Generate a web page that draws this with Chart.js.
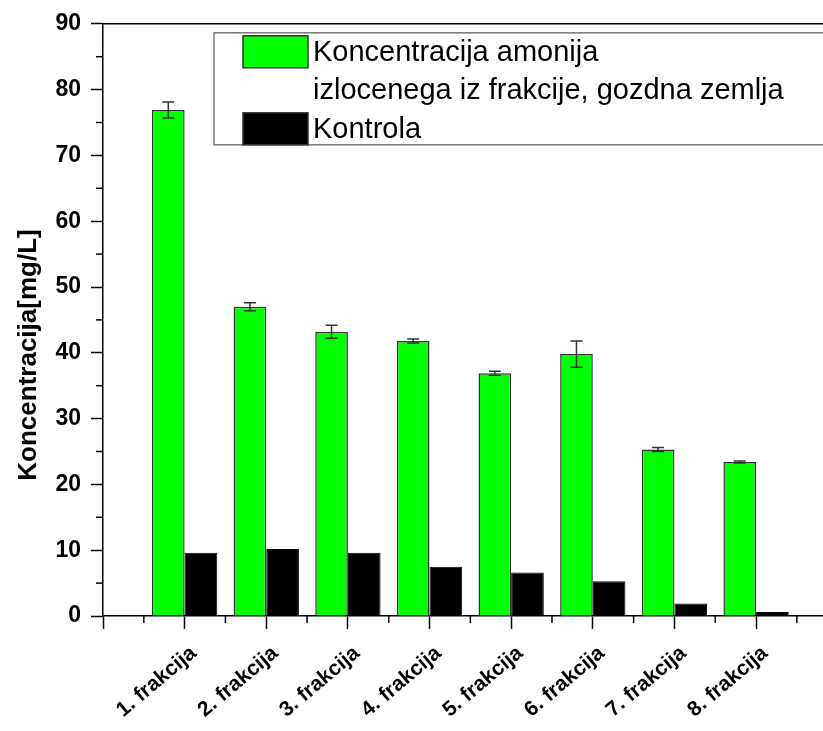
<!DOCTYPE html>
<html>
<head>
<meta charset="utf-8">
<script src="https://cdn.jsdelivr.net/npm/chart.js@4.4.1/dist/chart.umd.min.js"></script>
<style>
html,body{margin:0;padding:0;background:#fff;}
canvas{display:block;}
</style>
</head>
<body>
<canvas id="c" width="823" height="731"></canvas>
<script>
const categories = ['1. frakcija','2. frakcija','3. frakcija','4. frakcija','5. frakcija','6. frakcija','7. frakcija','8. frakcija'];
const amonij = [76.9, 47.0, 43.2, 41.8, 36.9, 39.8, 25.3, 23.4];
const amonijErr = [1.2, 0.6, 1.0, 0.3, 0.3, 2.0, 0.3, 0.15];
const kontrola = [9.6, 10.2, 9.6, 7.5, 6.6, 5.3, 1.9, 0.6];
const seriesNames = [['Koncentracija amonija','izlocenega iz frakcije, gozdna zemlja'], ['Kontrola']];
const yTicks = [0,10,20,30,40,50,60,70,80,90];
const yTitle = 'Koncentracija[mg/L]';

const FONT = "'Liberation Sans', Arial, sans-serif";

const decorations = {
  id: 'decorations',
  afterDraw(chart) {
    const ctx = chart.ctx, a = chart.chartArea;
    const xs = chart.scales.x, ys = chart.scales.y;
    ctx.save();
    ctx.strokeStyle = '#000';
    ctx.lineWidth = 1.5;
    ctx.beginPath();
    ctx.moveTo(a.left, a.top); ctx.lineTo(a.right, a.top);
    ctx.stroke();
    for (let v = 5; v < 90; v += 10) {
      const p = ys.getPixelForValue(v);
      ctx.beginPath(); ctx.moveTo(a.left - 7, p); ctx.lineTo(a.left, p); ctx.stroke();
    }
    for (let v = 0.5; v < xs.max; v += 1) {
      const p = xs.getPixelForValue(v);
      ctx.beginPath(); ctx.moveTo(p, a.bottom); ctx.lineTo(p, a.bottom + 7); ctx.stroke();
    }
    ctx.translate(29, a.bottom - 261);
    ctx.rotate(-Math.PI / 2);
    ctx.font = 'bold 26px ' + FONT;
    ctx.fillStyle = '#000';
    ctx.textAlign = 'center';
    ctx.textBaseline = 'middle';
    ctx.fillText(yTitle, 0, 0);
    ctx.restore();
  }
};

const errorBars = {
  id: 'errorBars',
  afterDatasetsDraw(chart) {
    const ctx = chart.ctx, ys = chart.scales.y;
    const meta = chart.getDatasetMeta(0);
    ctx.save();
    ctx.strokeStyle = '#333';
    ctx.lineWidth = 1.5;
    meta.data.forEach((bar, i) => {
      const v = amonij[i], e = amonijErr[i];
      const yt = ys.getPixelForValue(v + e), yb = ys.getPixelForValue(v - e);
      const x = bar.x, cw = 6;
      ctx.beginPath();
      ctx.moveTo(x, yt); ctx.lineTo(x, yb);
      ctx.moveTo(x - cw, yt); ctx.lineTo(x + cw, yt);
      ctx.moveTo(x - cw, yb); ctx.lineTo(x + cw, yb);
      ctx.stroke();
    });
    ctx.restore();
  }
};

const boxLegend = {
  id: 'boxLegend',
  afterDraw(chart) {
    const ctx = chart.ctx, a = chart.chartArea;
    const bx = a.left + 111, by = a.top + 9;
    ctx.save();
    ctx.fillStyle = '#fff';
    ctx.fillRect(bx, by, chart.width - bx + 5, 112);
    ctx.strokeStyle = '#777';
    ctx.lineWidth = 1.5;
    ctx.strokeRect(bx, by, chart.width - bx + 5, 112);
    ctx.font = '29px ' + FONT;
    ctx.textBaseline = 'middle';
    const ds = chart.data.datasets;
    const rows = [by + 19, by + 96];
    ds.forEach((d, i) => {
      const sy = rows[i];
      ctx.fillStyle = d.backgroundColor;
      ctx.fillRect(bx + 29, sy - 16, 65, 32);
      ctx.strokeStyle = '#333';
      ctx.lineWidth = 1.5;
      ctx.strokeRect(bx + 29, sy - 16, 65, 32);
      ctx.fillStyle = '#000';
      seriesNames[i].forEach((t, j) => ctx.fillText(t, bx + 99, sy + 1 + j * 38));
    });
    ctx.restore();
  }
};

new Chart(document.getElementById('c'), {
  type: 'bar',
  data: {
    datasets: [
      {
        label: seriesNames[0].join(' '),
        data: amonij.map((v, i) => ({x: i + 1, y: v})),
        backgroundColor: 'rgb(0,255,0)',
        borderColor: '#333',
        borderWidth: 1.5,
        categoryPercentage: 0.8,
        barPercentage: 1.0
      },
      {
        label: seriesNames[1].join(' '),
        data: kontrola.map((v, i) => ({x: i + 1, y: v})),
        backgroundColor: '#000',
        borderColor: '#000',
        borderWidth: 1,
        categoryPercentage: 0.8,
        barPercentage: 1.0
      }
    ]
  },
  options: {
    responsive: false,
    animation: false,
    devicePixelRatio: 1,
    layout: {padding: 0},
    plugins: {legend: {display: false}, tooltip: {enabled: false}},
    scales: {
      x: {
        type: 'linear',
        min: 0,
        max: 8.82,
        offset: false,
        afterBuildTicks(scale) {
          scale.ticks = [0].concat(categories.map((c, i) => i + 1)).map(v => ({value: v}));
        },
        afterFit(scale) { scale.height = 115; },
        grid: {offset: false, drawOnChartArea: false, drawTicks: true, tickLength: 13, tickColor: '#000', tickWidth: 1.5},
        border: {display: true, color: '#000', width: 1.5},
        ticks: {
          autoSkip: false,
          minRotation: 40,
          maxRotation: 40,
          padding: 12,
          labelOffset: 9,
          color: '#000',
          font: {family: FONT, size: 21, weight: 'bold'},
          callback: v => categories[v - 1] || ''
        }
      },
      y: {
        min: 0,
        max: 90,
        afterBuildTicks(scale) { scale.ticks = yTicks.map(v => ({value: v})); },
        afterFit(scale) { scale.width = 103; },
        grid: {drawOnChartArea: false, drawTicks: true, tickLength: 12, tickColor: '#000', tickWidth: 1.5},
        border: {display: true, color: '#000', width: 1.5},
        ticks: {padding: 10, color: '#000', font: {family: FONT, size: 23, weight: 'bold'}}
      }
    }
  },
  plugins: [decorations, errorBars, boxLegend]
});
</script>
</body>
</html>
